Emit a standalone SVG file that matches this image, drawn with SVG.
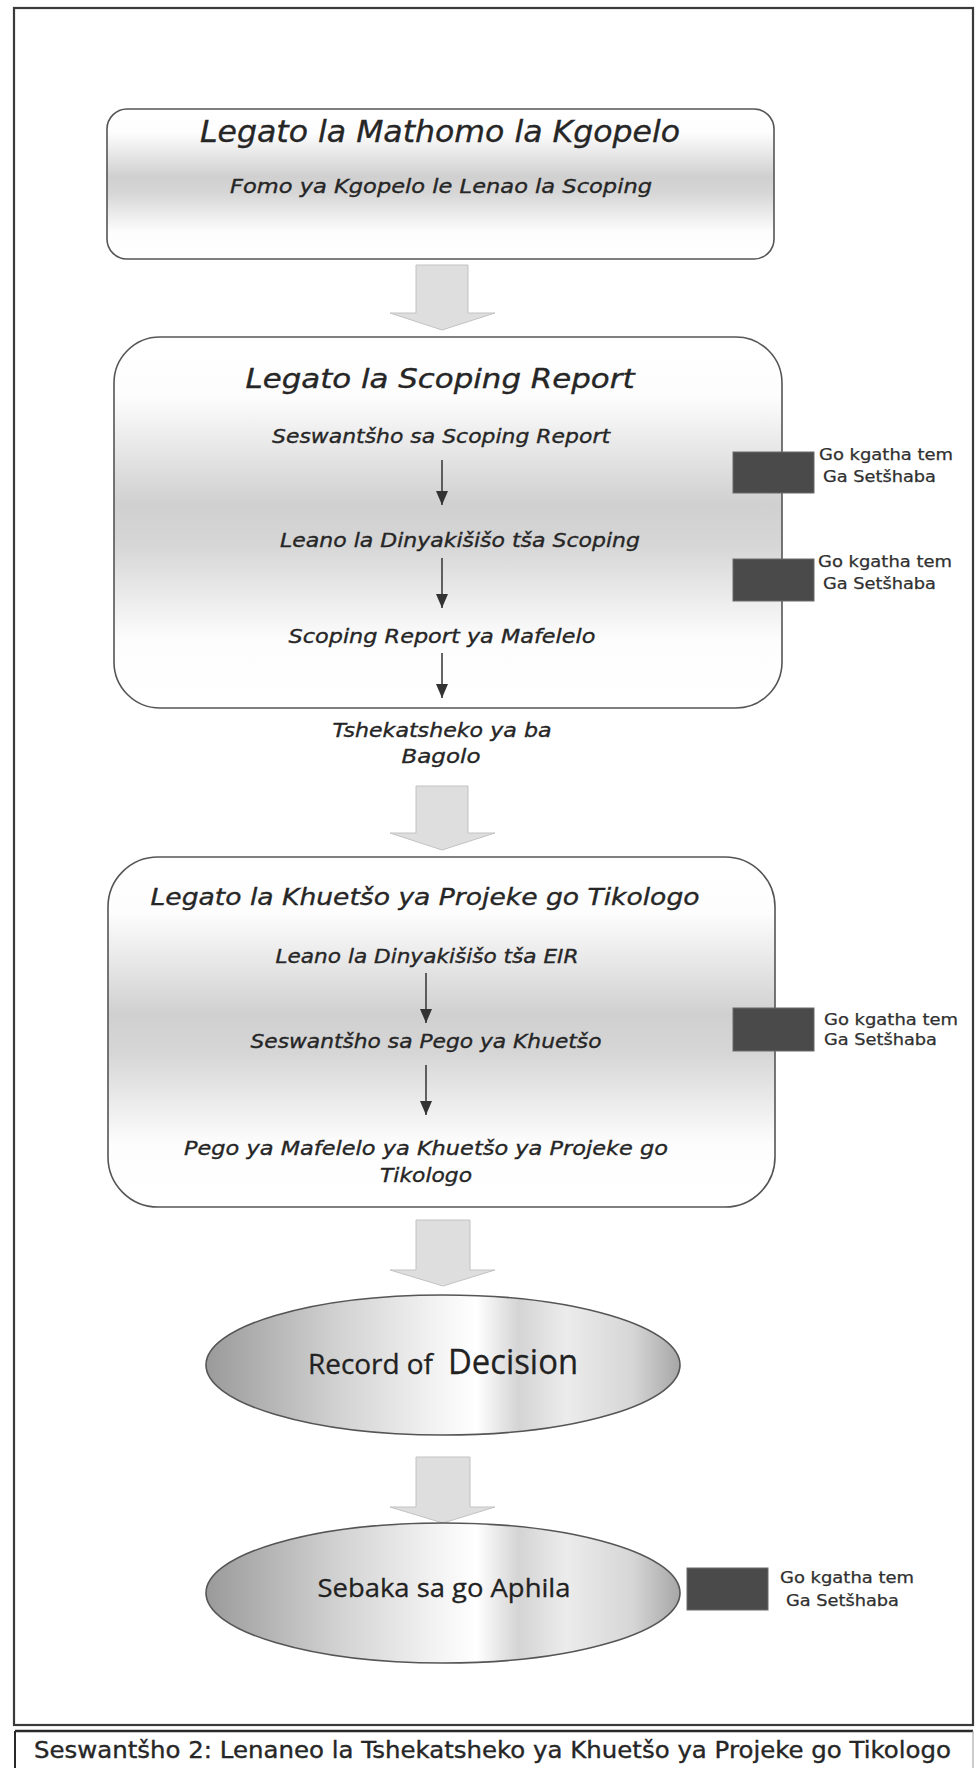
<svg xmlns="http://www.w3.org/2000/svg" width="978" height="1768" viewBox="0 0 978 1768">
  <defs>
    <style>
      .box { stroke: #555; stroke-width: 1.6; }
      .t { font-family: "DejaVu Sans", "Liberation Sans", sans-serif; fill: #262626; stroke: #262626; stroke-width: 0.35; }
      .it { font-style: italic; }
      .mid { text-anchor: middle; }
      .side { font-family: "DejaVu Sans", "Liberation Sans", sans-serif; fill: #303030; stroke: #303030; stroke-width: 0.25; font-size: 15px; }
      .tag { fill: #4a4a4a; stroke: #6a6a6a; stroke-width: 1; }
      .blk { fill: #dedede; stroke: #c2c2c2; stroke-width: 1; }
      .sm { stroke: #333; stroke-width: 1.5; fill: none; marker-end: url(#ah); }
      .oval { stroke: #555; stroke-width: 1.6; fill: url(#ovalGrad); }
      .plain { font-family: "Open Sans", "DejaVu Sans", sans-serif; fill: #222; stroke: #222; stroke-width: 0.3; }
    </style>
    <linearGradient id="boxGrad" x1="0" y1="0" x2="0" y2="1">
      <stop offset="0" stop-color="#ffffff"/>
      <stop offset="0.16" stop-color="#fdfdfd"/>
      <stop offset="0.45" stop-color="#d0d0d0"/>
      <stop offset="0.56" stop-color="#d6d6d6"/>
      <stop offset="0.82" stop-color="#fdfdfd"/>
      <stop offset="1" stop-color="#ffffff"/>
    </linearGradient>
    <linearGradient id="ovalGrad" x1="0" y1="0" x2="1" y2="0">
      <stop offset="0" stop-color="#9a9a9a"/>
      <stop offset="0.28" stop-color="#d2d2d2"/>
      <stop offset="0.48" stop-color="#f2f2f2"/>
      <stop offset="0.57" stop-color="#ffffff"/>
      <stop offset="0.66" stop-color="#d4d4d4"/>
      <stop offset="0.76" stop-color="#ececec"/>
      <stop offset="0.9" stop-color="#d6d6d6"/>
      <stop offset="1" stop-color="#a6a6a6"/>
    </linearGradient>
    <marker id="ah" markerUnits="userSpaceOnUse" viewBox="0 0 14 12" refX="14" refY="6" markerWidth="14" markerHeight="12" orient="auto">
      <path d="M0,0 L14,6 L0,12 z" fill="#333"/>
    </marker>
  </defs>

  <rect width="978" height="1768" fill="#ffffff"/>

  <g id="frame">
    <rect x="14" y="8" width="959" height="1717" fill="none" stroke="#3a3a3a" stroke-width="2.2"/>
    <line x1="15" y1="1731" x2="973" y2="1731" stroke="#2a2a2a" stroke-width="2.5"/>
    <line x1="15" y1="1731" x2="15" y2="1768" stroke="#2a2a2a" stroke-width="2"/>
    <line x1="973" y1="1731" x2="973" y2="1768" stroke="#999" stroke-width="1"/>
    <text class="t" x="34" y="1758" font-size="23" textLength="917" lengthAdjust="spacingAndGlyphs">Seswantšho 2: Lenaneo la Tshekatsheko ya Khuetšo ya Projeke go Tikologo</text>
  </g>

  <g id="connectors">
    <polygon class="blk" points="416,265 468,265 468,313 495,313 442,330 390,313 416,313"/>
    <polygon class="blk" points="416,786 468,786 468,833 495,833 442,850 390,833 416,833"/>
    <polygon class="blk" points="416,1220 470,1220 470,1270 495,1270 443,1286 390,1270 416,1270"/>
    <polygon class="blk" points="416,1457 470,1457 470,1507 495,1507 443,1523 390,1507 416,1507"/>
  </g>

  <g id="node-mathomo">
    <rect class="box" x="107" y="109" width="667" height="150" rx="20" ry="20" fill="url(#boxGrad)"/>
    <text class="t it mid" x="440" y="142" font-size="30" textLength="480" lengthAdjust="spacingAndGlyphs">Legato la Mathomo la Kgopelo</text>
    <text class="t it mid" x="441" y="193" font-size="20" textLength="422" lengthAdjust="spacingAndGlyphs">Fomo ya Kgopelo le Lenao la Scoping</text>
  </g>

  <g id="node-scoping">
    <rect class="box" x="114" y="337" width="668" height="371" rx="46" ry="46" fill="url(#boxGrad)"/>
    <text class="t it mid" x="440" y="388" font-size="26" textLength="389" lengthAdjust="spacingAndGlyphs">Legato la Scoping Report</text>
    <text class="t it mid" x="441" y="443" font-size="20" textLength="338" lengthAdjust="spacingAndGlyphs">Seswantšho sa Scoping Report</text>
    <text class="t it mid" x="460" y="547" font-size="20" textLength="360" lengthAdjust="spacingAndGlyphs">Leano la Dinyakišišo tša Scoping</text>
    <text class="t it mid" x="442" y="643" font-size="20" textLength="307" lengthAdjust="spacingAndGlyphs">Scoping Report ya Mafelelo</text>
  </g>

  <g id="node-bagolo">
    <text class="t it mid" x="442" y="737" font-size="20" textLength="219" lengthAdjust="spacingAndGlyphs">Tshekatsheko ya ba</text>
    <text class="t it mid" x="441" y="763" font-size="20" textLength="79" lengthAdjust="spacingAndGlyphs">Bagolo</text>
  </g>

  <g id="node-khuetso">
    <rect class="box" x="108" y="857" width="667" height="350" rx="50" ry="50" fill="url(#boxGrad)"/>
    <text class="t it mid" x="425" y="905" font-size="23" textLength="549" lengthAdjust="spacingAndGlyphs">Legato la Khuetšo ya Projeke go Tikologo</text>
    <text class="t it mid" x="427" y="963" font-size="20" textLength="303" lengthAdjust="spacingAndGlyphs">Leano la Dinyakišišo tša EIR</text>
    <text class="t it mid" x="426" y="1048" font-size="20" textLength="351" lengthAdjust="spacingAndGlyphs">Seswantšho sa Pego ya Khuetšo</text>
    <text class="t it mid" x="426" y="1155" font-size="20" textLength="484" lengthAdjust="spacingAndGlyphs">Pego ya Mafelelo ya Khuetšo ya Projeke go</text>
    <text class="t it mid" x="426" y="1182" font-size="20" textLength="92" lengthAdjust="spacingAndGlyphs">Tikologo</text>
  </g>

  <g id="inner-arrows">
    <line class="sm" x1="442" y1="460" x2="442" y2="505"/>
    <line class="sm" x1="442" y1="558" x2="442" y2="608"/>
    <line class="sm" x1="442" y1="653" x2="442" y2="698"/>
    <line class="sm" x1="426" y1="973" x2="426" y2="1023"/>
    <line class="sm" x1="426" y1="1065" x2="426" y2="1115"/>
  </g>

  <g id="node-record">
    <ellipse class="oval" cx="443" cy="1365" rx="237" ry="70"/>
    <text class="plain" x="308" y="1374" font-size="27" textLength="125" lengthAdjust="spacingAndGlyphs">Record of</text>
    <text class="plain" x="448" y="1374" font-size="35" textLength="130" lengthAdjust="spacingAndGlyphs">Decision</text>
  </g>

  <g id="node-aphila">
    <ellipse class="oval" cx="443" cy="1593" rx="237" ry="70"/>
    <text class="plain mid" x="444" y="1597" font-size="26" textLength="253" lengthAdjust="spacingAndGlyphs">Sebaka sa go Aphila</text>
  </g>

  <g id="node-tag1">
    <rect class="tag" x="733" y="452" width="81" height="41"/>
    <text class="side" x="819" y="460" textLength="134" lengthAdjust="spacingAndGlyphs">Go kgatha tem</text>
    <text class="side" x="823" y="482" textLength="113" lengthAdjust="spacingAndGlyphs">Ga Setšhaba</text>
  </g>

  <g id="node-tag2">
    <rect class="tag" x="733" y="559" width="81" height="42"/>
    <text class="side" x="818" y="567" textLength="134" lengthAdjust="spacingAndGlyphs">Go kgatha tem</text>
    <text class="side" x="823" y="589" textLength="113" lengthAdjust="spacingAndGlyphs">Ga Setšhaba</text>
  </g>

  <g id="node-tag3">
    <rect class="tag" x="733" y="1008" width="81" height="43"/>
    <text class="side" x="824" y="1025" textLength="134" lengthAdjust="spacingAndGlyphs">Go kgatha tem</text>
    <text class="side" x="824" y="1045" textLength="113" lengthAdjust="spacingAndGlyphs">Ga Setšhaba</text>
  </g>

  <g id="node-tag4">
    <rect class="tag" x="687" y="1568" width="81" height="42"/>
    <text class="side" x="780" y="1583" textLength="134" lengthAdjust="spacingAndGlyphs">Go kgatha tem</text>
    <text class="side" x="786" y="1606" textLength="113" lengthAdjust="spacingAndGlyphs">Ga Setšhaba</text>
  </g>
</svg>
